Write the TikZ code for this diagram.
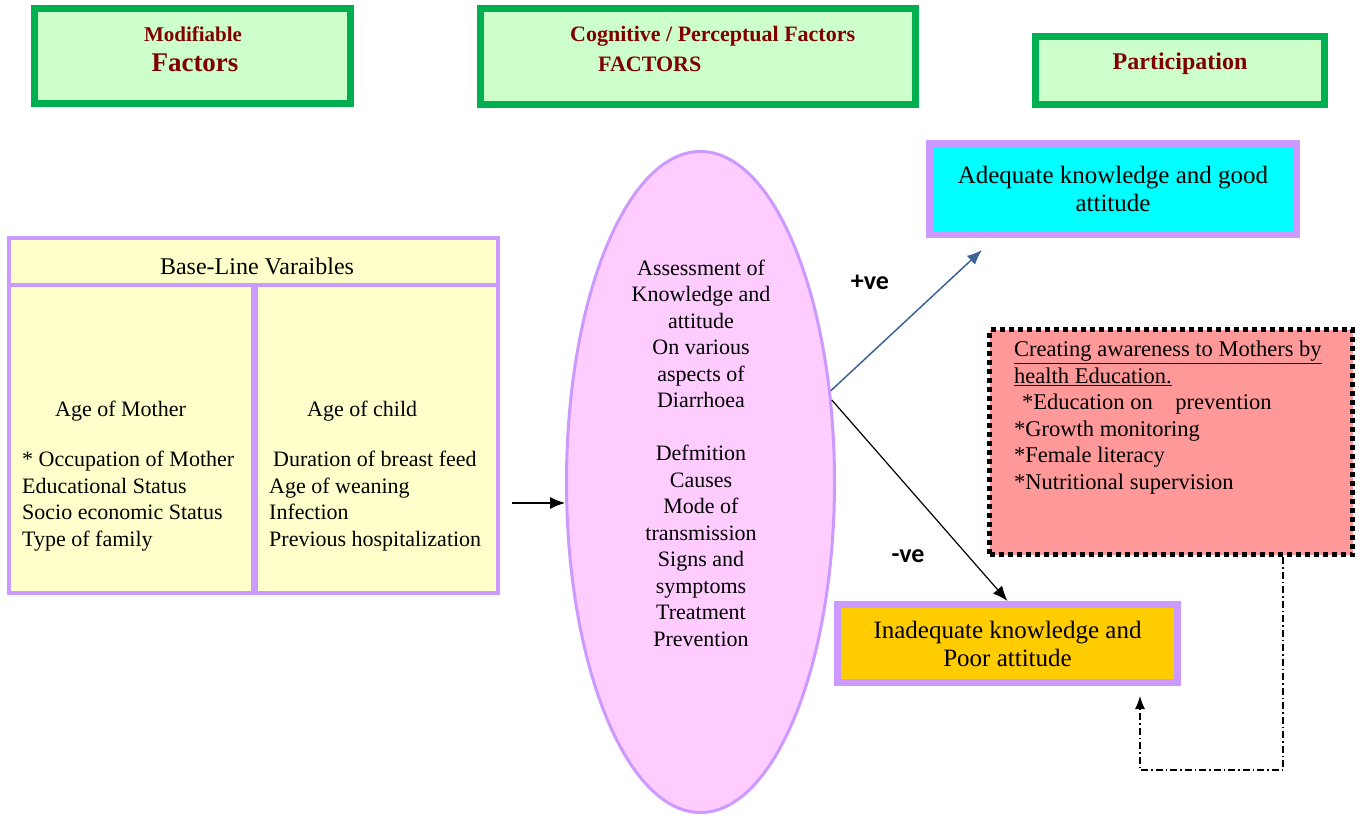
\documentclass[tikz,border=0pt]{standalone}
\usepackage{fontspec}
\setmainfont{Liberation Serif}
\newfontfamily\labelfont{Carlito}
\usetikzlibrary{shapes.geometric,arrows.meta}
\definecolor{hdgreen}{RGB}{0,176,80}
\definecolor{hdfill}{RGB}{204,255,204}
\definecolor{hdtext}{RGB}{128,0,0}
\definecolor{lilac}{RGB}{204,153,255}
\definecolor{cream}{RGB}{255,255,204}
\definecolor{pinkfill}{RGB}{255,204,255}
\definecolor{salmon}{RGB}{255,153,153}
\definecolor{gold}{RGB}{255,204,0}
\definecolor{aqua}{RGB}{0,255,255}
\definecolor{steel}{RGB}{62,100,150}
\begin{document}
\begin{tikzpicture}[x=1pt,y=-1pt,
  hdbox/.style={draw=hdgreen, fill=hdfill, line width=7pt, inner sep=0pt},
  hdtxt/.style={text=hdtext, font=\bfseries\fontsize{22}{26}\selectfont, inner sep=0pt},
  lilbox/.style={draw=lilac, line width=7pt, inner sep=0pt, align=center, font=\fontsize{25}{28}\selectfont},
  body/.style={font=\fontsize{22}{26.5}\selectfont, inner sep=0pt},
  tip/.style={-{Latex[length=15pt,width=12pt]}},
  sign/.style={font=\labelfont\bfseries\fontsize{26}{28}\selectfont, inner sep=0pt}
]
\useasboundingbox (0,0) rectangle (1363,816);

% header boxes
\node[hdbox, minimum width=316pt, minimum height=95pt] (mod) at (192.5,56) {};
\node[hdtxt, font=\bfseries\fontsize{21}{24}\selectfont] (modt1) at (193,34) {Modifiable};
\node[hdtxt, font=\bfseries\fontsize{27}{30}\selectfont] (modt2) at (195,63) {Factors};

\node[hdbox, minimum width=435pt, minimum height=96pt] (cog) at (698,56.5) {};
\node[hdtxt, anchor=west] (cogt1) at (570,36) {Cognitive / Perceptual Factors};
\node[hdtxt, anchor=west] (cogt2) at (598,64) {FACTORS};

\node[hdbox, minimum width=289pt, minimum height=68pt] (par) at (1180,70.5) {};
\node[hdtxt, font=\bfseries\fontsize{24}{28}\selectfont] (part) at (1180,64) {Participation};

% outcome boxes
\node[lilbox, fill=aqua, minimum width=367pt, minimum height=91pt] (adq) at (1113,189) {Adequate knowledge and good\\attitude};
\node[lilbox, fill=gold, minimum width=340pt, minimum height=78pt] (inad) at (1007.5,643.5) {Inadequate knowledge and\\Poor attitude};

% baseline variables box
\node[draw=lilac, line width=4pt, fill=cream, minimum width=489pt, minimum height=355pt, inner sep=0pt] (bl) at (253.5,415.5) {};
\coordinate (hl) at (0,285);
\draw[lilac, line width=4pt] (bl.west |- hl) -- (bl.east |- hl);
\coordinate (vt) at (254,285);
\draw[lilac, line width=7pt] (vt) -- (vt |- bl.south);
\node[body, font=\fontsize{24}{26}\selectfont] (blh) at (257,266) {Base-Line Varaibles};
\node[body, anchor=west] (agem) at (55,411) {Age of Mother};
\node[body, anchor=north west, align=left] (lmlist) at (22,451) {* Occupation of Mother\\Educational Status\\Socio economic Status\\Type of family};
\node[body, anchor=west] (agec) at (307,411) {Age of child};
\node[body, anchor=north west, align=left] (rclist) at (269,451) {\hspace{4pt}Duration of breast feed\\Age of weaning\\Infection\\Previous hospitalization};

% ellipse
\node[ellipse, draw=lilac, line width=3pt, fill=pinkfill, minimum width=268pt, minimum height=661pt, inner sep=0pt] (ell) at (700.5,482) {};
\node[body, align=center] (ellt) at (701,453) {Assessment of\\Knowledge and\\attitude\\On various\\aspects of\\Diarrhoea\\[26.5pt]Defmition\\Causes\\Mode of\\transmission\\Signs and\\symptoms\\Treatment\\Prevention};

% awareness box
\node[draw=black, line width=5pt, dash pattern=on 5pt off 4pt, fill=salmon, minimum width=363pt, minimum height=225pt, inner sep=0pt] (aw) at (1171,442) {};
\node[body, font=\fontsize{22.5}{26.5}\selectfont, anchor=north west, align=left] (awt) at (1014,341) {\underline{Creating awareness to Mothers by}\\\underline{health Education.}\\\hspace{8pt}*Education on \ \ \ prevention\\*Growth monitoring\\*Female literacy\\*Nutritional supervision};

% connectors
\coordinate (a0) at (512,503);
\draw[line width=1.2pt, tip] (a0) -- (a0 -| ell.west);
\coordinate (adt) at (982,250);
\draw[steel, line width=1.5pt, tip] (ell.35) -- (adt);
\draw[black, line width=1.2pt, tip] (ell.32) -- (inad.north);
\node[sign] (pos) at (870,282) {+ve};
\node[sign] (neg) at (908,556) {-ve};

\coordinate (d1) at (1283,770);
\coordinate (d2) at (1140,770);
\draw[line width=1.3pt, dash pattern=on 7pt off 3pt on 1.5pt off 3pt, -{Latex[length=13pt,width=10pt]}, shorten >=10pt] (aw.south -| d1) -- (d1) -- (d2) -- (inad.south -| d2);
\end{tikzpicture}
\end{document}
